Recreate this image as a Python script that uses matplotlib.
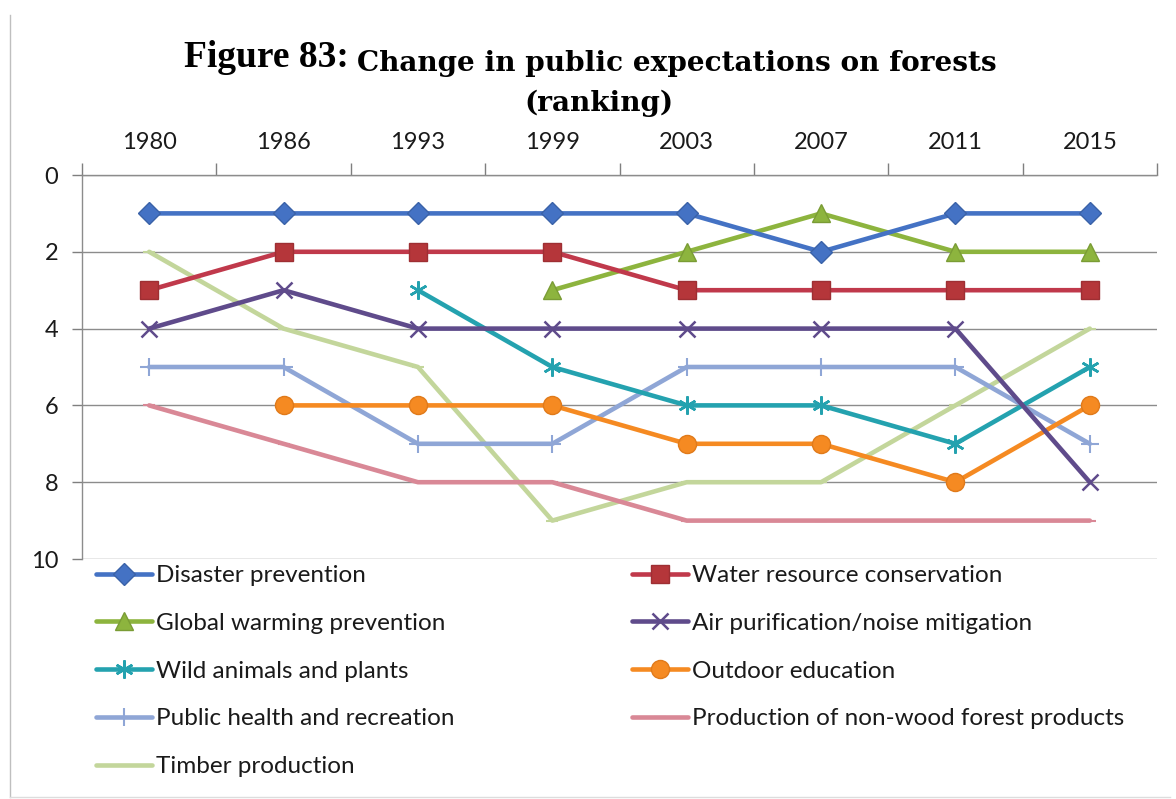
import numpy as np
import matplotlib
matplotlib.use("Agg")
import matplotlib.pyplot as plt
from matplotlib.lines import Line2D

years = ["1980", "1986", "1993", "1999", "2003", "2007", "2011", "2015"]
nan = np.nan
disaster = [1, 1, 1, 1, 1, 2, 1, 1]
water = [3, 2, 2, 2, 3, 3, 3, 3]
global_warming = [nan, nan, nan, 3, 2, 1, 2, 2]
air = [4, 3, 4, 4, 4, 4, 4, 8]
wild = [nan, nan, 3, 5, 6, 6, 7, 5]
outdoor = [nan, 6, 6, 6, 7, 7, 8, 6]
public_health = [5, 5, 7, 7, 5, 5, 5, 7]
non_wood = [6, 7, 8, 8, 9, 9, 9, 9]
timber = [2, 4, 5, 9, 8, 8, 6, 4]

labels = ["Disaster prevention", "Water resource conservation",
          "Global warming prevention", "Air purification/noise mitigation",
          "Wild animals and plants", "Outdoor education",
          "Public health and recreation", "Production of non-wood forest products",
          "Timber production"]

W, H = 1176, 799
fig = plt.figure(figsize=(W / 100, H / 100), dpi=100)
fig.patch.set_facecolor("white")

ax_l, ax_r, ax_t, ax_b = 82, 1157, 175, 559
ax = fig.add_axes([ax_l / W, 1 - ax_b / H, (ax_r - ax_l) / W, (ax_b - ax_t) / H])

x = np.arange(len(years))
LW = 3.3
styles = [
    dict(data=disaster, color="#4472C4", marker="D", ms=11, mec="#3A62A8", mew=1.0, z=9),
    dict(data=water, color="#C0394B", marker="s", ms=13, mfc="#B5363A", mec="#9E2F33", mew=1.0, z=8),
    dict(data=global_warming, color="#8DB43E", marker="^", ms=13, mec="#7A9C35", mew=1.0, z=7),
    dict(data=air, color="#5F4B8B", marker="x", ms=12, mew=1.8, z=6),
    dict(data=wild, color="#24A2AF", marker=(6, 2, 0), ms=13, mew=1.8, z=5),
    dict(data=outdoor, color="#F58A22", marker="o", ms=13, mec="#E07A1A", mew=1.0, z=4),
    dict(data=public_health, color="#8FA6D6", marker="+", ms=13, mew=1.5, z=3),
    dict(data=non_wood, color="#D98896", marker="_", ms=8, mew=1.5, z=2),
    dict(data=timber, color="#C3D69B", marker="_", ms=8, mew=1.5, z=1),
]

handles = []
for st, lab in zip(styles, labels):
    kw = dict(color=st["color"], marker=st["marker"], markersize=st["ms"],
              markeredgewidth=st.get("mew", 1.0), linewidth=LW,
              markerfacecolor=st.get("mfc", st["color"]),
              markeredgecolor=st.get("mec", st["color"]), zorder=st["z"] + 2,
              solid_joinstyle="round", solid_capstyle="round")
    ln, = ax.plot(x, st["data"], label=lab, **kw)
    handles.append(ln)

ax.set_xlim(-0.5, len(years) - 0.5)
ax.set_ylim(10, 0)
ax.set_yticks(np.arange(0, 11, 2))
ax.xaxis.tick_top()
ax.set_xticks(x)
ax.set_xticklabels(years)
ax.set_xticks(np.arange(-0.5, len(years), 1), minor=True)
ax.tick_params(axis="x", which="major", length=0, pad=16, labelsize=17)
ax.tick_params(axis="x", which="minor", length=9, width=1, color="#7F7F7F", direction="out", top=True)
ax.tick_params(axis="y", which="major", length=7, width=1, color="#7F7F7F", direction="out", pad=10, labelsize=17)
for lab in ax.get_xticklabels() + ax.get_yticklabels():
    lab.set_fontfamily("Lato")
    lab.set_color("#1A1A1A")

ax.yaxis.grid(True, color="#8C8C8C", linewidth=1.0)
ax.set_axisbelow(True)
for s in ["right", "bottom"]:
    ax.spines[s].set_visible(False)
for s in ["left", "top"]:
    ax.spines[s].set_color("#8C8C8C")
    ax.spines[s].set_linewidth(1.0)

# title
fig.text(349 / W, 1 - 67 / H, "Figure 83:", ha="right", va="baseline",
         fontfamily="Liberation Serif", fontweight="bold", fontsize=27, color="black")
t_main = fig.text(357 / W, 1 - 71 / H, "Change in public expectations on forests", ha="left", va="baseline",
                  fontfamily="DejaVu Serif", fontweight="bold", fontsize=20, color="black")
renderer = fig.canvas.get_renderer()
wpx = t_main.get_window_extent(renderer).width
fs = 20 * 640 / wpx
t_main.set_fontsize(fs)
fig.text(599 / W, 1 - 111 / H, "(ranking)", ha="center", va="baseline",
         fontfamily="DejaVu Serif", fontweight="bold", fontsize=fs, color="black")

# legend (two columns, row-major order)
col1 = [handles[i] for i in (0, 2, 4, 6, 8)]
col2 = [handles[i] for i in (1, 3, 5, 7)]
common = dict(frameon=False, loc="upper left", handlelength=2.3, handletextpad=0.15,
              labelspacing=1.1, borderpad=0, borderaxespad=0,
              prop={"family": "Lato", "size": 17.5})
leg1 = fig.legend(col1, [h.get_label() for h in col1], bbox_to_anchor=(96 / W, 1 - 565 / H), **common)
leg2 = fig.legend(col2, [h.get_label() for h in col2], bbox_to_anchor=(632 / W, 1 - 565 / H), **common)
for lg in (leg1, leg2):
    for t in lg.get_texts():
        t.set_color("#1A1A1A")

# outer frame lines
fig.add_artist(Line2D([10 / W, 10 / W], [1 - 15 / H, 1 - 797 / H], color="#BFBFBF", lw=1.0, transform=fig.transFigure))
fig.add_artist(Line2D([10 / W, 1170 / W], [1 - 797 / H, 1 - 797 / H], color="#DDDDDD", lw=1.0, transform=fig.transFigure))

fig.savefig("out.png", dpi=100, facecolor="white")
